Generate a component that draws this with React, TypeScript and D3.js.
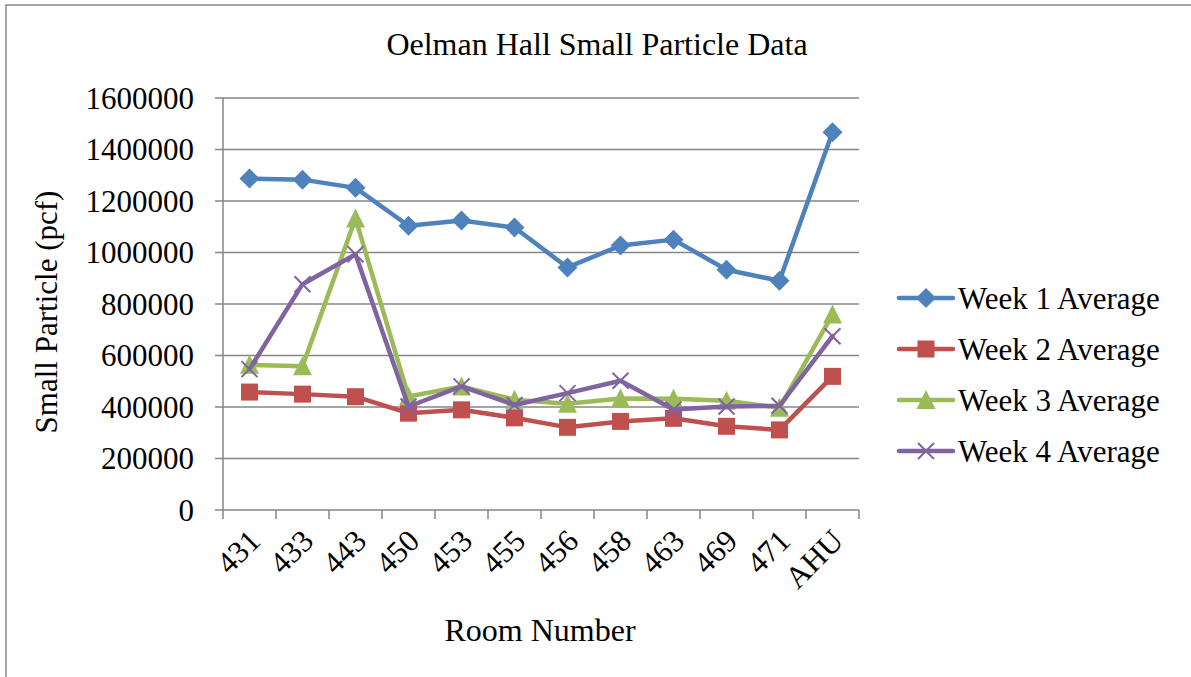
import React from "react";
import * as d3 from "d3";

const rooms = ["431", "433", "443", "450", "453", "455", "456", "458", "463", "469", "471", "AHU"];
const week1 = [1287000, 1283000, 1251000, 1104000, 1124000, 1097000, 942000, 1027000, 1050000, 933000, 890000, 1467000];
const week2 = [458000, 450000, 440000, 376000, 389000, 358000, 321000, 344000, 356000, 325000, 311000, 519000];
const week3 = [564000, 558000, 1132000, 441000, 480000, 428000, 413000, 433000, 432000, 424000, 397000, 759000];
const week4 = [547000, 877000, 993000, 402000, 480000, 408000, 454000, 502000, 390000, 402000, 405000, 675000];
const yTicks = [0, 200000, 400000, 600000, 800000, 1000000, 1200000, 1400000, 1600000];
const seriesNames = ["Week 1 Average", "Week 2 Average", "Week 3 Average", "Week 4 Average"];

const colors = ["#4F81BD", "#C0504D", "#9BBB59", "#8064A2"];
const markers = ["diamond", "square", "triangle", "x"];
const FONT = "'Liberation Serif', 'Times New Roman', serif";

function Marker({ type, x, y, color }: { type: string; x: number; y: number; color: string }) {
  if (type === "diamond") {
    const s = 10;
    return <path d={`M${x},${y - s}L${x + s},${y}L${x},${y + s}L${x - s},${y}Z`} fill={color} />;
  }
  if (type === "square") {
    const s = 8.5;
    return <rect x={x - s} y={y - s} width={2 * s} height={2 * s} fill={color} />;
  }
  if (type === "triangle") {
    const w = 9.5, h = 9;
    return <path d={`M${x},${y - h - 1}L${x + w},${y + h}L${x - w},${y + h}Z`} fill={color} />;
  }
  const s = 8;
  return (
    <path d={`M${x - s},${y - s}L${x + s},${y + s}M${x - s},${y + s}L${x + s},${y - s}`} stroke={color} strokeWidth={2} fill="none" />
  );
}

export default function App() {
  const W = 1191, H = 677;
  const left = 223, right = 859, top = 98, bottom = 510;
  const x = d3.scaleBand<string>().domain(rooms).range([left, right]);
  const y = d3.scaleLinear().domain([0, 1600000]).range([bottom, top]);
  const data = [week1, week2, week3, week4];
  const line = d3
    .line<number>()
    .x((_, i) => (x(rooms[i]) as number) + x.bandwidth() / 2)
    .y((d) => y(d));
  const gridColor = "#868686";
  const boundaries = rooms.map((r) => x(r) as number).concat([right]);

  return (
    <svg width={W} height={H} style={{ position: "absolute", left: 0, top: 0, background: "#fff" }} fontFamily={FONT}>
      <rect x={6} y={5} width={1300} height={800} fill="#fff" stroke="#888" strokeWidth={1.5} />
      <text x={597} y={55} textAnchor="middle" fontSize={32}>Oelman Hall Small Particle Data</text>

      {yTicks.map((t) => (
        <g key={t}>
          <line x1={left - 8} x2={right} y1={y(t)} y2={y(t)} stroke={gridColor} strokeWidth={1.5} />
          <text x={194} y={y(t)} dy="0.35em" textAnchor="end" fontSize={31}>{t}</text>
        </g>
      ))}
      <line x1={left} x2={left} y1={top} y2={bottom} stroke={gridColor} strokeWidth={1.5} />
      {boundaries.map((b, i) => (
        <line key={i} x1={b} x2={b} y1={bottom} y2={bottom + 9} stroke={gridColor} strokeWidth={1.5} />
      ))}
      {rooms.map((r) => {
        const cx = (x(r) as number) + x.bandwidth() / 2;
        return (
          <text key={r} transform={`translate(${cx + 5},${535}) rotate(-45)`} textAnchor="end" dy="0.35em" fontSize={31}>
            {r}
          </text>
        );
      })}
      <text x={540} y={641} textAnchor="middle" fontSize={32}>Room Number</text>
      <text transform={`translate(57,312) rotate(-90)`} textAnchor="middle" fontSize={31}>Small Particle (pcf)</text>

      {data.map((s, si) => (
        <g key={si}>
          <path d={line(s) as string} fill="none" stroke={colors[si]} strokeWidth={4.5} strokeLinejoin="round" strokeLinecap="round" />
          {s.map((v, i) => (
            <Marker key={i} type={markers[si]} x={(x(rooms[i]) as number) + x.bandwidth() / 2} y={y(v)} color={colors[si]} />
          ))}
        </g>
      ))}

      {seriesNames.map((n, i) => {
        const ly = 298 + i * 51;
        return (
          <g key={n}>
            <line x1={899} x2={953} y1={ly} y2={ly} stroke={colors[i]} strokeWidth={4.5} strokeLinecap="round" />
            <Marker type={markers[i]} x={926} y={ly} color={colors[i]} />
            <text x={958} y={ly} dy="0.35em" fontSize={31}>{n}</text>
          </g>
        );
      })}
    </svg>
  );
}
